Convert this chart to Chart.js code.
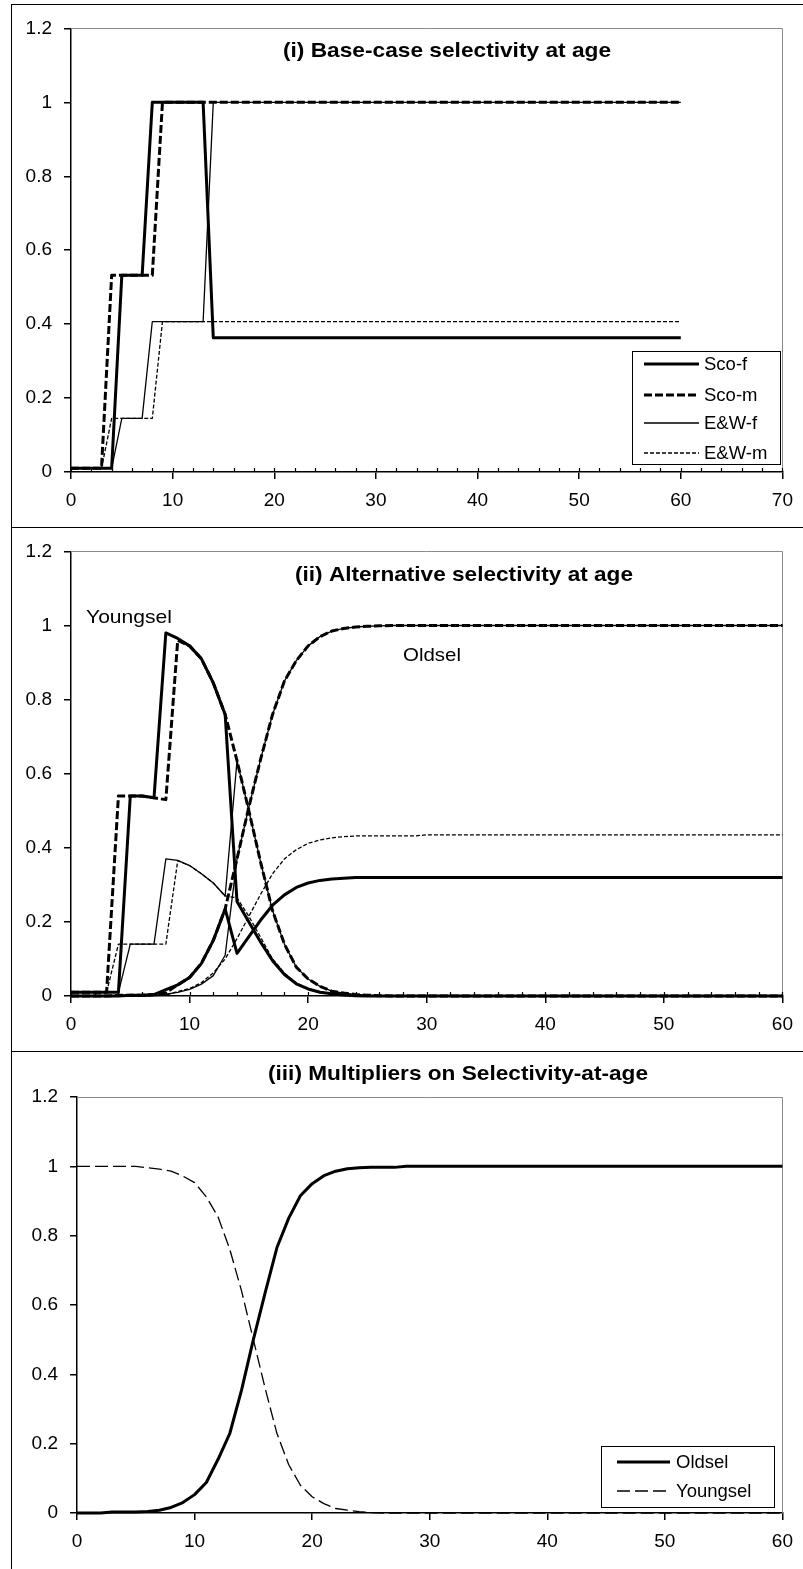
<!DOCTYPE html>
<html><head><meta charset="utf-8">
<script src="https://cdn.jsdelivr.net/npm/chart.js@4.4.0/dist/chart.umd.min.js"></script>
<style>
html,body{margin:0;padding:0;background:#fff;overflow:hidden;}
body{width:803px;height:1569px;position:relative;}
canvas{position:absolute;left:0;}
.frame{position:absolute;left:11px;width:900px;border:1px solid #000;box-sizing:border-box;}
</style></head><body>
<div class="frame" style="top:4px;height:524px"></div>
<div class="frame" style="top:527px;height:525px"></div>
<div class="frame" style="top:1051px;height:600px"></div>
<canvas id="c1" width="803" height="522" style="top:5px"></canvas>
<canvas id="c2" width="803" height="523" style="top:528px"></canvas>
<canvas id="c3" width="803" height="517" style="top:1052px"></canvas>
<script>
// ---------------- DATA ----------------
const ages = [0,1,2,3,4,5,6,7,8,9,
10,11,12,13,14,15,16,17,18,19,
20,21,22,23,24,25,26,27,28,29,
30,31,32,33,34,35,36,37,38,39,
40,41,42,43,44,45,46,47,48,49,
50,51,52,53,54,55,56,57,58,59,
60];

// Panel (i) base-case selectivity
const scoF_base = [0.01,0.01,0.01,0.01,0.01,0.532,0.532,0.532,1,1,
1,1,1,1,0.363,0.363,0.363,0.363,0.363,0.363,
0.363,0.363,0.363,0.363,0.363,0.363,0.363,0.363,0.363,0.363,
0.363,0.363,0.363,0.363,0.363,0.363,0.363,0.363,0.363,0.363,
0.363,0.363,0.363,0.363,0.363,0.363,0.363,0.363,0.363,0.363,
0.363,0.363,0.363,0.363,0.363,0.363,0.363,0.363,0.363,0.363,
0.363];
const scoM_base = [0.01,0.01,0.01,0.01,0.532,0.532,0.532,0.532,0.532,1,
1,1,1,1,1,1,1,1,1,1,
1,1,1,1,1,1,1,1,1,1,
1,1,1,1,1,1,1,1,1,1,
1,1,1,1,1,1,1,1,1,1,
1,1,1,1,1,1,1,1,1,1,
1];
const ewF_base = [0.01,0.01,0.01,0.01,0.01,0.145,0.145,0.145,0.407,0.407,
0.407,0.407,0.407,0.407,1,1,1,1,1,1,
1,1,1,1,1,1,1,1,1,1,
1,1,1,1,1,1,1,1,1,1,
1,1,1,1,1,1,1,1,1,1,
1,1,1,1,1,1,1,1,1,1,
1];
const ewM_base = [0.01,0.01,0.01,0.01,0.145,0.145,0.145,0.145,0.145,0.407,
0.407,0.407,0.407,0.407,0.407,0.407,0.407,0.407,0.407,0.407,
0.407,0.407,0.407,0.407,0.407,0.407,0.407,0.407,0.407,0.407,
0.407,0.407,0.407,0.407,0.407,0.407,0.407,0.407,0.407,0.407,
0.407,0.407,0.407,0.407,0.407,0.407,0.407,0.407,0.407,0.407,
0.407,0.407,0.407,0.407,0.407,0.407,0.407,0.407,0.407,0.407,
0.407];

// Panel (ii) alternative selectivity: Youngsel
const scoF_young = [0.01,0.01,0.01,0.01,0.01,0.54,0.54,0.535,0.98,0.965,
0.945,0.91,0.845,0.76,0.255,0.2,0.145,0.095,0.058,0.033,
0.019,0.01,0.006,0.003,0.001,0,0,0,0,0,
0,0,0,0,0,0,0,0,0,0,
0,0,0,0,0,0,0,0,0,0,
0,0,0,0,0,0,0,0,0,0,
0];
const scoM_young = [0.01,0.01,0.01,0.01,0.54,0.54,0.54,0.535,0.53,0.96,
0.945,0.91,0.845,0.76,0.635,0.5,0.36,0.23,0.14,0.078,
0.046,0.026,0.013,0.008,0.004,0.002,0.001,0,0,0,
0,0,0,0,0,0,0,0,0,0,
0,0,0,0,0,0,0,0,0,0,
0,0,0,0,0,0,0,0,0,0,
0];
const ewF_young = [0.01,0.01,0.01,0.01,0.01,0.14,0.14,0.14,0.37,0.366,
0.352,0.33,0.305,0.27,0.635,0.5,0.36,0.23,0.14,0.078,
0.046,0.026,0.013,0.008,0.004,0.002,0.001,0,0,0,
0,0,0,0,0,0,0,0,0,0,
0,0,0,0,0,0,0,0,0,0,
0,0,0,0,0,0,0,0,0,0,
0];
const ewM_young = [0.01,0.01,0.01,0.01,0.14,0.14,0.14,0.14,0.14,0.365,
0.352,0.33,0.305,0.27,0.265,0.215,0.158,0.1,0.062,0.035,
0.02,0.011,0.006,0.003,0.002,0.001,0,0,0,0,
0,0,0,0,0,0,0,0,0,0,
0,0,0,0,0,0,0,0,0,0,
0,0,0,0,0,0,0,0,0,0,
0];
// Panel (ii): Oldsel
const scoF_old = [0,0,0,0,0,0.002,0.002,0.004,0.017,0.03,
0.05,0.088,0.15,0.235,0.115,0.16,0.205,0.245,0.273,0.293,
0.305,0.312,0.316,0.318,0.32,0.32,0.32,0.32,0.32,0.32,
0.32,0.32,0.32,0.32,0.32,0.32,0.32,0.32,0.32,0.32,
0.32,0.32,0.32,0.32,0.32,0.32,0.32,0.32,0.32,0.32,
0.32,0.32,0.32,0.32,0.32,0.32,0.32,0.32,0.32,0.32,
0.32];
const scoM_old = [0,0,0,0,0.002,0.002,0.002,0.004,0.009,0.03,
0.05,0.088,0.15,0.235,0.37,0.51,0.64,0.76,0.85,0.905,
0.945,0.97,0.985,0.992,0.996,0.998,0.999,1,1,1,
1,1,1,1,1,1,1,1,1,1,
1,1,1,1,1,1,1,1,1,1,
1,1,1,1,1,1,1,1,1,1,
1];
const ewF_old = [0,0,0,0,0,0,0,0.001,0.005,0.01,
0.018,0.032,0.055,0.11,0.37,0.51,0.64,0.76,0.85,0.905,
0.945,0.97,0.985,0.992,0.996,0.998,0.999,1,1,1,
1,1,1,1,1,1,1,1,1,1,
1,1,1,1,1,1,1,1,1,1,
1,1,1,1,1,1,1,1,1,1,
1];
const ewM_old = [0,0,0,0,0,0,0,0.001,0.002,0.012,
0.02,0.036,0.062,0.1,0.155,0.215,0.275,0.33,0.37,0.395,
0.412,0.421,0.427,0.43,0.432,0.432,0.432,0.432,0.432,0.432,
0.435,0.435,0.435,0.435,0.435,0.435,0.435,0.435,0.435,0.435,
0.435,0.435,0.435,0.435,0.435,0.435,0.435,0.435,0.435,0.435,
0.435,0.435,0.435,0.435,0.435,0.435,0.435,0.435,0.435,0.435,
0.435];

// Panel (iii) multipliers
const oldsel = [0,0,0,0.003,0.003,0.003,0.004,0.008,0.016,0.03,
0.053,0.088,0.155,0.23,0.355,0.5,0.635,0.765,0.85,0.915,
0.95,0.973,0.986,0.993,0.996,0.997,0.997,0.997,1,1,
1,1,1,1,1,1,1,1,1,1,
1,1,1,1,1,1,1,1,1,1,
1,1,1,1,1,1,1,1,1,1,
1];
const youngsel = [1,1,1,1,1,1,0.996,0.992,0.986,0.972,
0.953,0.912,0.854,0.76,0.64,0.5,0.36,0.23,0.14,0.08,
0.047,0.027,0.013,0.008,0.004,0.001,0,0,0,0,
0,0,0,0,0,0,0,0,0,0,
0,0,0,0,0,0,0,0,0,0,
0,0,0,0,0,0,0,0,0,0,
0];

// Ticks & labels
const yTickValues = [0,0.2,0.4,0.6,0.8,1,1.2];
const yTickLabels = ['0','0.2','0.4','0.6','0.8','1','1.2'];
const xTickValues70 = [0,10,20,30,40,50,60,70];
const xTickLabels70 = ['0','10','20','30','40','50','60','70'];
const xTickValues60 = [0,10,20,30,40,50,60];
const xTickLabels60 = ['0','10','20','30','40','50','60'];
const seriesLabels1 = ['Sco-f','Sco-m','E&W-f','E&W-m'];
const seriesLabels3 = ['Oldsel','Youngsel'];
const titles = ['(i) Base-case selectivity at age','(ii) Alternative selectivity at age','(iii) Multipliers on Selectivity-at-age'];
const panel2Notes = ['Youngsel','Oldsel'];

// ---------------- RENDERING ----------------
const FONT = '"Liberation Sans", Arial, sans-serif';
const THIN = 1.3, THICK = 3;
const pts = vals => ages.map((a,i)=>({x:a,y:vals[i]}));

function ds(label, vals, width, dash){
  return {label, data: pts(vals), borderColor:'#000', backgroundColor:'#000',
    borderWidth: width, borderDash: dash, pointRadius:0, pointHoverRadius:0,
    tension:0, fill:false, clip:false, borderCapStyle:'butt', borderJoinStyle:'round'};
}

function xScale(max, values, labels){
  return {type:'linear', min:0, max:max,
    afterBuildTicks: s => { s.ticks = values.map(v=>({value:v})); },
    afterFit: s => { s.height = 40; },
    ticks:{autoSkip:false, maxRotation:0, color:'#000', padding:10,
      font:{family:FONT,size:19}, callback:(v)=>labels[values.indexOf(v)]},
    grid:{display:true, drawOnChartArea:false, drawTicks:true, tickLength:7, color:'#000', lineWidth:1.5},
    border:{display:true, color:'#000', width:1.5}
  };
}
function yScale(){
  return {type:'linear', min:0, max:1.2,
    afterBuildTicks: s => { s.ticks = yTickValues.map(v=>({value:v})); },
    afterFit: s => { s.width = 60; },
    ticks:{color:'#000', padding:12, font:{family:FONT,size:19},
      callback:(v)=>yTickLabels[yTickValues.indexOf(v)]},
    grid:{display:true, drawOnChartArea:false, drawTicks:true, tickLength:7, color:'#000', lineWidth:1.5},
    border:{display:true, color:'#000', width:1.5}
  };
}

const framePlugin = {id:'plotFrame', beforeDatasetsDraw(chart){
  const {ctx, chartArea:a} = chart;
  ctx.save(); ctx.strokeStyle='#8a8a8a'; ctx.lineWidth=1;
  ctx.beginPath(); ctx.moveTo(a.left, Math.round(a.top)+0.5);
  ctx.lineTo(Math.round(a.right)+0.5, Math.round(a.top)+0.5);
  ctx.lineTo(Math.round(a.right)+0.5, a.bottom); ctx.stroke(); ctx.restore();
}};

const minorTickPlugin = {id:'minorTicks', beforeDatasetsDraw(chart, args, opts){
  if(!opts || !opts.step) return;
  const {ctx} = chart; const xs = chart.scales.x; const yb = chart.chartArea.bottom;
  ctx.save(); ctx.strokeStyle='#000'; ctx.lineWidth=1.2; ctx.beginPath();
  for(let v = xs.min; v <= xs.max + 1e-9; v += opts.step){
    const px = Math.round(xs.getPixelForValue(v))+0.5;
    ctx.moveTo(px, yb); ctx.lineTo(px, yb - opts.len);
  }
  ctx.stroke(); ctx.restore();
}};

const textPlugin = {id:'texts', afterDraw(chart, args, opts){
  if(!opts || !opts.items) return;
  const {ctx} = chart;
  opts.items.forEach(it=>{
    ctx.save();
    ctx.font = (it.bold?'bold ':'') + it.size + 'px ' + FONT;
    ctx.fillStyle = '#000'; ctx.textBaseline='middle';
    const w = ctx.measureText(it.text).width;
    const sx = it.width ? it.width / w : 1;
    ctx.translate(it.x, it.y); ctx.scale(sx,1);
    ctx.textAlign = it.align==='center' ? 'center' : 'left';
    ctx.fillText(it.text,0,0);
    ctx.restore();
  });
}};

const legendPlugin = {id:'boxLegend', afterDraw(chart, args, opts){
  if(!opts || !opts.box) return;
  const {ctx} = chart; const b = opts.box;
  ctx.save();
  ctx.fillStyle='#fff'; ctx.fillRect(b[0], b[1], b[2]-b[0], b[3]-b[1]);
  ctx.strokeStyle='#000'; ctx.lineWidth=1;
  ctx.strokeRect(b[0]+0.5, b[1]+0.5, b[2]-b[0], b[3]-b[1]);
  chart.data.datasets.forEach((d,i)=>{
    const y = opts.rows[i];
    ctx.save(); ctx.strokeStyle='#000'; ctx.lineWidth=d.borderWidth; ctx.setLineDash(d.borderDash||[]);
    ctx.lineCap='butt';
    ctx.beginPath(); ctx.moveTo(opts.sx[0], y); ctx.lineTo(opts.sx[1], y); ctx.stroke(); ctx.restore();
    ctx.fillStyle='#000'; ctx.font='18.5px '+FONT; ctx.textBaseline='middle'; ctx.textAlign='left';
    ctx.fillText(d.label, opts.tx, y+1);
  });
  ctx.restore();
}};

function makeChart(id, datasets, xs, padding, pluginOpts){
  return new Chart(document.getElementById(id), {
    type:'line',
    data:{datasets},
    options:{responsive:false, animation:false, devicePixelRatio:1,
      layout:{padding},
      scales:{x:xs, y:yScale()},
      plugins:Object.assign({legend:{display:false}, tooltip:{enabled:false}}, pluginOpts)
    },
    plugins:[framePlugin, minorTickPlugin, textPlugin, legendPlugin]
  });
}

// Panel (i)
makeChart('c1', [
  ds(seriesLabels1[0], scoF_base, THICK, []),
  ds(seriesLabels1[1], scoM_base, THICK, [8,3]),
  ds(seriesLabels1[2], ewF_base, THIN, []),
  ds(seriesLabels1[3], ewM_base, THIN, [4,2])
], xScale(70, xTickValues70, xTickLabels70), {left:11, right:20, top:23, bottom:15}, {
  minorTicks:{step:2, len:4},
  texts:{items:[{text:titles[0], x:447, y:46, size:20.5, bold:true, width:328, align:'center'}]},
  boxLegend:{box:[632,346,780,459], rows:[359,390,418,448], sx:[644,699], tx:704}
});

// Panel (ii)
makeChart('c2', [
  ds('Sco-f Youngsel', scoF_young, THICK, []),
  ds('Sco-m Youngsel', scoM_young, THICK, [8,3]),
  ds('E&W-f Youngsel', ewF_young, THIN, []),
  ds('E&W-m Youngsel', ewM_young, THIN, [4,2]),
  ds('Sco-f Oldsel', scoF_old, THICK, []),
  ds('Sco-m Oldsel', scoM_old, THICK, [8,3]),
  ds('E&W-f Oldsel', ewF_old, THIN, []),
  ds('E&W-m Oldsel', ewM_old, THIN, [4,2])
], xScale(60, xTickValues60, xTickLabels60), {left:11, right:20, top:23, bottom:15}, {
  minorTicks:{step:2, len:4},
  texts:{items:[
    {text:titles[1], x:464, y:47, size:20.5, bold:true, width:338, align:'center'},
    {text:panel2Notes[0], x:86, y:90, size:19, width:86},
    {text:panel2Notes[1], x:403, y:128, size:19, width:58}
  ]}
});

// Panel (iii)
makeChart('c3', [
  ds(seriesLabels3[0], oldsel, THICK, []),
  ds(seriesLabels3[1], youngsel, THIN, [13,5])
], xScale(60, xTickValues60, xTickLabels60), {left:17, right:20, top:45, bottom:16}, {
  texts:{items:[{text:titles[2], x:458, y:22, size:20.5, bold:true, width:380, align:'center'}]},
  boxLegend:{box:[601,394,774,455], rows:[410,439], sx:[617,670], tx:676}
});
</script>
</body></html>
